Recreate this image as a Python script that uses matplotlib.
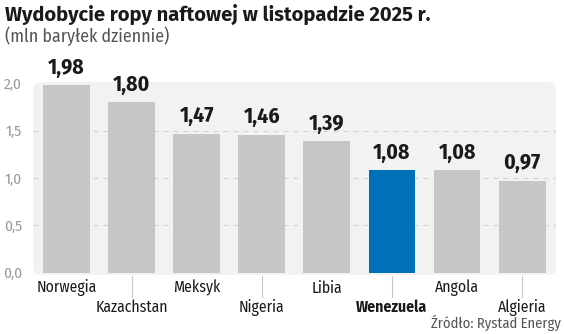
import numpy as np
import matplotlib
matplotlib.use("Agg")
import matplotlib.pyplot as plt
from matplotlib.patches import FancyBboxPatch

plt.rcParams['font.family'] = ['Fira Sans Condensed', 'DejaVu Sans']

# Data
countries = ['Norwegia', 'Kazachstan', 'Meksyk', 'Nigeria', 'Libia',
             'Wenezuela', 'Angola', 'Algieria']
output = [1.98, 1.80, 1.47, 1.46, 1.39, 1.08, 1.08, 0.97]
highlight = 'Wenezuela'
yticks = [0.0, 0.5, 1.0, 1.5, 2.0]

W, H = 564, 334
fig = plt.figure(figsize=(W / 100, H / 100), dpi=100)
fig.patch.set_facecolor('white')

# axes box in pixels
left, right, top, bottom = 33, 556, 82, 275
ax = fig.add_axes([left / W, 1 - bottom / H, (right - left) / W, (bottom - top) / H])
ax.set_facecolor('none')
ax.set_xlim(-0.515, 7.52)
ax.set_ylim(-0.026, 2.016)
for s in ax.spines.values():
    s.set_visible(False)

# rounded light panel behind the bars
aw, ah = right - left, bottom - top
bg = FancyBboxPatch((0, 0), 1, 1, boxstyle='round,pad=0,rounding_size=%f' % (8 / aw),
                    mutation_aspect=aw / ah, transform=ax.transAxes,
                    facecolor='#f2f2f2', edgecolor='none', zorder=0)
ax.add_patch(bg)

# dashed gridlines
for y in yticks[1:-1]:
    ax.axhline(y, color='#d4d4d4', lw=0.9, ls=(0, (4, 4)), zorder=1)

x = np.arange(len(countries))
colors = ['#0070b8' if c == highlight else '#c6c6c6' for c in countries]
ax.bar(x, output, width=0.72, color=colors, zorder=2)

for xi, v in zip(x, output):
    ax.annotate(('%.2f' % v).replace('.', ','), (xi, v), xytext=(0, 5),
                textcoords='offset points', ha='center', va='bottom',
                fontsize=15.5, fontweight='bold', color='#1a1a1a', zorder=3)

ax.set_yticks(yticks)
ax.set_yticklabels([('%.1f' % t).replace('.', ',') for t in yticks],
                   fontsize=11, color='#999999')
ax.tick_params(axis='y', length=0, pad=8)
ax.set_xticks([])

# category labels, staggered in two rows
for i, c in enumerate(countries):
    wt = 'bold' if c == highlight else 'normal'
    xp = ax.transData.transform((i, 0))[0] / W
    if i % 2 == 0:
        fig.text(xp, 1 - 288 / H, c, ha='center', va='center', fontsize=11.3,
                 fontweight=wt, color='#1a1a1a')
    else:
        fig.text(xp, 1 - 307 / H, c, ha='center', va='center', fontsize=11.3,
                 fontweight=wt, color='#1a1a1a')
        fig.add_artist(plt.Line2D([xp, xp], [1 - 276 / H, 1 - 297 / H],
                                  color='#c8c8c8', lw=0.8))

fig.text(5 / W, 1 - 14 / H, 'Wydobycie ropy naftowej w listopadzie 2025 r.',
         ha='left', va='center', fontsize=14.5, fontweight='bold',
         family=['Fira Sans', 'DejaVu Sans'], color='#1a1a1a')
fig.text(5 / W, 1 - 36 / H, '(mln baryłek dziennie)', ha='left', va='center',
         fontsize=12.8, color='#555555')
fig.text(561 / W, 1 - 323 / H, 'Źródło: Rystad Energy', ha='right', va='center',
         fontsize=10.5, color='#555555')

fig.savefig('out.png', dpi=100, facecolor='white')
